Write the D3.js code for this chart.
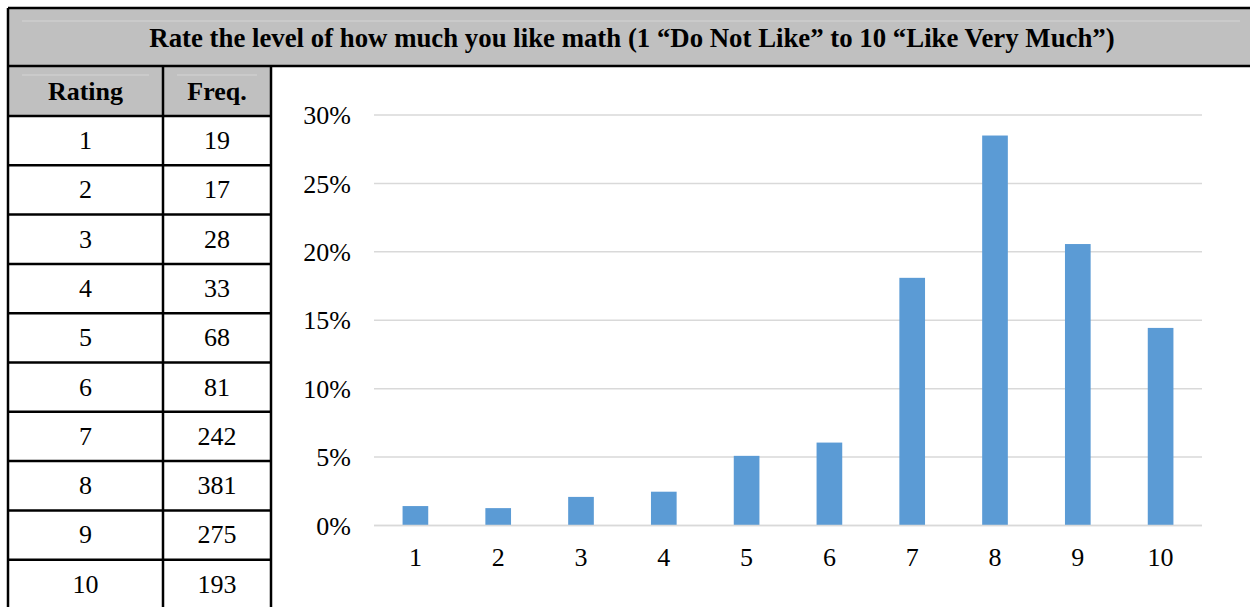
<!DOCTYPE html>
<html><head><meta charset="utf-8">
<script src="https://cdn.jsdelivr.net/npm/d3@7/dist/d3.min.js"></script>
<style>body{margin:0;background:#fff;}svg{display:block;}</style>
</head><body>
<script>
const title = "Rate the level of how much you like math (1 \u201cDo Not Like\u201d to 10 \u201cLike Very Much\u201d)";
const ratings = ["1","2","3","4","5","6","7","8","9","10"];
const freqs = [19,17,28,33,68,81,242,381,275,193];
const pcts = [1.42,1.27,2.09,2.47,5.09,6.06,18.10,28.50,20.57,14.44];
const yTicks = [0,5,10,15,20,25,30];
const headers = ["Rating","Freq."];

(function(){
const W=1250,H=607;
const svg=d3.select("body").append("svg").attr("width",W).attr("height",H);
const font="'Liberation Serif','Times New Roman',serif";
const fs=26;

const leftX=8, topY=8, titleBottom=66, headBottom=116, col1=163, col2=271;
const rowH=49.3;
const gray="#c0c0c0";

svg.append("rect").attr("x",leftX).attr("y",topY).attr("width",W-leftX).attr("height",titleBottom-topY).attr("fill",gray);
svg.append("line").attr("x1",22).attr("x2",1240).attr("y1",21).attr("y2",21).attr("stroke","#d4d4d4").attr("stroke-width",1);
svg.append("text").attr("x",(leftX+W)/2+3).attr("y",47).attr("text-anchor","middle")
  .attr("font-family",font).attr("font-weight","bold").attr("font-size",26.8).text(title);

svg.append("rect").attr("x",leftX).attr("y",titleBottom).attr("width",col2-leftX).attr("height",headBottom-titleBottom).attr("fill",gray);
[[leftX,col1],[col1,col2]].forEach((c,i)=>{
  svg.append("line").attr("x1",c[0]+14).attr("x2",c[1]-14).attr("y1",75).attr("y2",75).attr("stroke","#d4d4d4");
  svg.append("text").attr("x",(c[0]+c[1])/2).attr("y",100).attr("text-anchor","middle")
    .attr("font-family",font).attr("font-weight","bold").attr("font-size",fs).text(headers[i]);
});

ratings.forEach((r,i)=>{
  const y0=headBottom+i*rowH;
  svg.append("text").attr("x",(leftX+col1)/2).attr("y",y0+33).attr("text-anchor","middle")
    .attr("font-family",font).attr("font-size",fs).text(r);
  svg.append("text").attr("x",(col1+col2)/2).attr("y",y0+33).attr("text-anchor","middle")
    .attr("font-family",font).attr("font-size",fs).text(freqs[i]);
  if(i>0) svg.append("line").attr("x1",leftX).attr("x2",col2).attr("y1",y0).attr("y2",y0).attr("stroke","#000").attr("stroke-width",2.5);
});

const bw=2.5;
svg.append("line").attr("x1",leftX).attr("x2",W).attr("y1",topY).attr("y2",topY).attr("stroke","#000").attr("stroke-width",bw);
svg.append("line").attr("x1",leftX).attr("x2",W).attr("y1",titleBottom).attr("y2",titleBottom).attr("stroke","#000").attr("stroke-width",bw);
svg.append("line").attr("x1",leftX).attr("x2",col2).attr("y1",headBottom).attr("y2",headBottom).attr("stroke","#000").attr("stroke-width",bw);
[leftX,col1,col2].forEach(xx=>{
  svg.append("line").attr("x1",xx).attr("x2",xx).attr("y1",xx===leftX?topY:titleBottom).attr("y2",H).attr("stroke","#000").attr("stroke-width",bw);
});

const x=d3.scaleBand().domain(ratings).range([374,1202]).paddingInner(0.69).paddingOuter(0.345);
const y=d3.scaleLinear().domain([0,30]).range([525.5,115]);

const g=svg.append("g");
g.selectAll("line.grid").data(yTicks).join("line").attr("class","grid")
  .attr("x1",374).attr("x2",1202).attr("y1",d=>y(d)).attr("y2",d=>y(d))
  .attr("stroke","#d9d9d9").attr("stroke-width",1.5);

g.selectAll("rect.bar").data(pcts).join("rect").attr("class","bar")
  .attr("x",(d,i)=>x(ratings[i])).attr("width",x.bandwidth())
  .attr("y",d=>y(d)).attr("height",d=>y(0)-y(d)).attr("fill","#5b9bd5");

g.append("line").attr("x1",374).attr("x2",1202).attr("y1",y(0)).attr("y2",y(0)).attr("stroke","#d9d9d9").attr("stroke-width",1.5);

const yAxis=d3.axisLeft(y).tickValues(yTicks).tickFormat(d=>d+"%").tickSize(0).tickPadding(0);
const ya=svg.append("g").attr("transform","translate(351,0)").call(yAxis);
ya.select(".domain").remove();
ya.selectAll("text").attr("font-family",font).attr("font-size",fs).attr("fill","#000").attr("dy","0.33em");

const xAxis=d3.axisBottom(x).tickSize(0).tickPadding(0);
const xa=svg.append("g").attr("transform","translate(0,566)").call(xAxis);
xa.select(".domain").remove();
xa.selectAll("text").attr("font-family",font).attr("font-size",fs).attr("fill","#000").attr("dy","0");
})();
</script>
</body></html>
